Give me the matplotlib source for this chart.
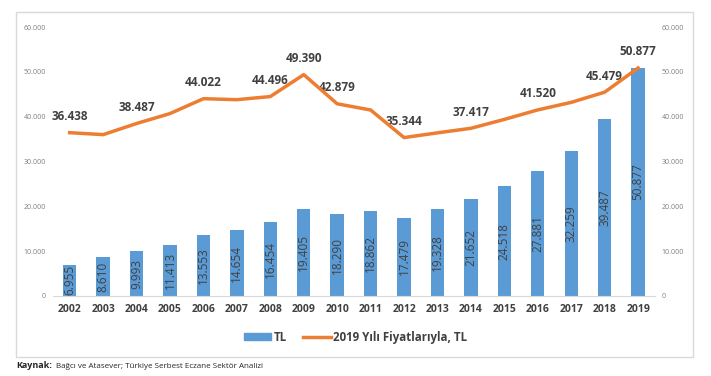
import matplotlib.pyplot as plt
import matplotlib.patches as mpatches
from matplotlib.lines import Line2D
import numpy as np

plt.rcParams['font.family'] = ['Open Sans', 'DejaVu Sans']

# data
years = [2002, 2003, 2004, 2005, 2006, 2007, 2008, 2009, 2010, 2011,
         2012, 2013, 2014, 2015, 2016, 2017, 2018, 2019]
tl_values = [6955, 8610, 9993, 11413, 13553, 14654, 16454, 19405, 18290, 18862,
             17479, 19328, 21652, 24518, 27881, 32259, 39487, 50877]
real_values = [36438, 36000, 38487, 40700, 44022, 43800, 44496, 49390, 42879, 41500,
               35344, 36400, 37417, 39400, 41520, 43200, 45479, 50877]
# which points of the line carry a label
real_labelled = [2002, 2004, 2006, 2008, 2009, 2010, 2012, 2014, 2016, 2018, 2019]
y_ticks = [0, 10000, 20000, 30000, 40000, 50000, 60000]

bar_color = "#5B9BD5"
line_color = "#ED7D31"
text_dark = "#404040"


def fmt(v):
    return f"{v:,}".replace(",", ".")


fig = plt.figure(figsize=(7.11, 3.76), dpi=100)
ax = fig.add_axes([0.0745, 0.2128, 0.8465, 0.7152])
ax2 = ax.twinx()

x = np.arange(len(years))
ax.bar(x, tl_values, width=0.4, color=bar_color, zorder=2)
for xi, v in zip(x, tl_values):
    ax.text(xi, v / 2, fmt(v), rotation=90, ha="center", va="center",
            fontsize=8.5, color=text_dark, zorder=3)

ax2.plot(x, real_values, color=line_color, linewidth=2.5, zorder=4)
for xi, yr, v in zip(x, years, real_values):
    if yr in real_labelled:
        ax2.annotate(fmt(v), (xi, v), xytext=(0, 11.5), textcoords="offset points",
                     ha="center", va="center", fontsize=8.5, fontweight="bold",
                     color=text_dark)

for a in (ax, ax2):
    a.set_ylim(0, 60000)
    a.set_yticks(y_ticks)
    a.set_yticklabels([fmt(t) for t in y_ticks], fontsize=5, color="#7f7f7f")
    a.tick_params(axis="y", length=0, pad=5)
    for s in a.spines.values():
        s.set_visible(False)
ax.set_xlim(-0.5, len(years) - 0.5)
ax.spines["bottom"].set_visible(True)
ax.spines["bottom"].set_color("#d9d9d9")
ax.set_xticks(x)
ax.set_xticklabels([str(y) for y in years], fontsize=7.5, fontweight="bold", color=text_dark)
ax.tick_params(axis="x", length=0, pad=6)

# legend
handles = [mpatches.Patch(color=bar_color, label="TL"),
           Line2D([0], [0], color=line_color, linewidth=2.5, label="2019 Yılı Fiyatlarıyla, TL")]
leg = fig.legend(handles=handles, loc="center", bbox_to_anchor=(0.5, 0.103), ncol=2,
                 frameon=False, fontsize=8.3, handlelength=2.4, handleheight=0.6,
                 columnspacing=1.4, handletextpad=0.2)
for t in leg.get_texts():
    t.set_fontweight("bold")
    t.set_color(text_dark)

# outer frame
fig.patches.append(mpatches.Rectangle((16 / 711, 1 - 357 / 376), 677 / 711, 345 / 376,
                                      transform=fig.transFigure, fill=False,
                                      edgecolor="#d9d9d9", linewidth=1))

fig.text(16 / 711, 1 - 366 / 376, "Kaynak:", fontsize=6.5, fontweight="bold",
         color="#262626", va="center")
fig.text(56 / 711, 1 - 366 / 376, "Bağcı ve Atasever; Türkiye Serbest Eczane Sektör Analizi",
         fontsize=5.8, color="#262626", va="center")

fig.savefig("out.png", dpi=100)
